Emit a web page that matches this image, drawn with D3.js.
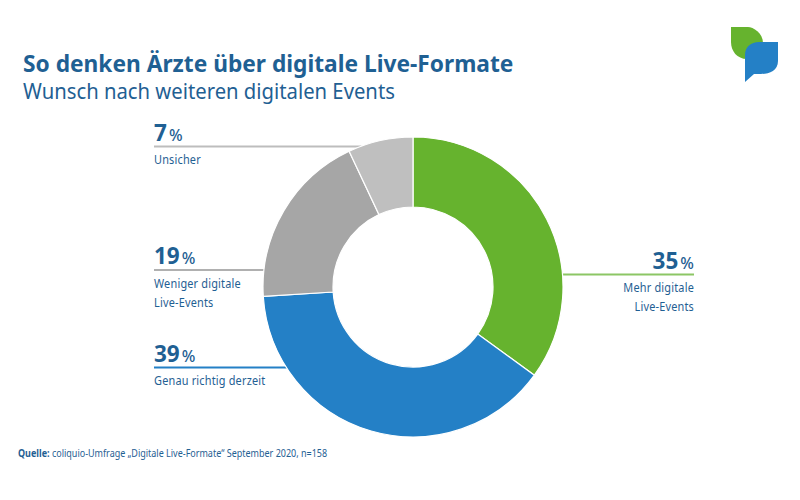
<!DOCTYPE html>
<html>
<head>
<meta charset="utf-8">
<script src="https://cdn.jsdelivr.net/npm/d3@7"></script>
<style>
  html, body { margin: 0; padding: 0; background: #fff; }
  text { font-family: "Noto Sans", sans-serif; fill: #1f6093; }
</style>
</head>
<body>
<svg id="chart" width="800" height="500"></svg>
<script>
const categories = ['Mehr digitale Live-Events', 'Genau richtig derzeit', 'Weniger digitale Live-Events', 'Unsicher'];
const values = [35, 39, 19, 7];
const colors = ['#66b32e', '#2480c6', '#a6a6a6', '#bfbfbf'];
const lineColors = ['#8cc665', '#2480c6', '#b0b0b0', '#bdbdbd'];
const labelLines = [['Mehr digitale', 'Live-Events'], ['Genau richtig derzeit'], ['Weniger digitale', 'Live-Events'], ['Unsicher']];

const cx = 413, cy = 287, outerR = 150, innerR = 80;
const labelLeft = 154, labelRight = 694;
const ruleY = [274.5, 367.5, 270, 146.5];

const svg = d3.select('#chart');

// Noto runs wider than the original face, so squeeze it horizontally
function squeezed(x, y, k) {
  return svg.append('text').attr('transform', `translate(${x},${y}) scale(${k},1)`);
}

squeezed(23, 72, 0.968)
  .style('font-size', '23.5px').style('font-weight', 700)
  .text('So denken Ärzte über digitale Live-Formate');
squeezed(23, 99, 0.966)
  .style('font-size', '21px')
  .text('Wunsch nach weiteren digitalen Events');

// logo
const logo = svg.append('g').attr('transform', 'translate(731,27)');
logo.append('path').attr('fill', '#66b32e')
  .attr('d', 'M0,0 H17 C22,0 32,6 32,16 V22 C32,30 24,32 16,32 C6,32 0,24 0,15 Z');
logo.append('path').attr('fill', '#2480c6')
  .attr('d', 'M47,15 V34 C47,44 38,47 30,47 H23 L14,55 V28 C14,20 20,15 28,15 Z');

// rules run from the label edge to the rim of the ring
ruleY.forEach((y, i) => {
  const dx = Math.sqrt(outerR * outerR - (y - cy) * (y - cy));
  const right = i === 0;
  svg.append('line')
    .attr('x1', right ? labelRight : labelLeft)
    .attr('x2', right ? cx + dx - 1 : cx - dx + 1)
    .attr('y1', y).attr('y2', y)
    .attr('stroke', lineColors[i]).attr('stroke-width', 2);
});

const pie = d3.pie().sort(null)(values);
const arc = d3.arc().innerRadius(innerR).outerRadius(outerR);
svg.append('g').attr('transform', `translate(${cx},${cy})`)
  .selectAll('path').data(pie).join('path')
  .attr('d', arc)
  .attr('fill', (d, i) => colors[i])
  .attr('stroke', '#fff').attr('stroke-width', 1.2);

values.forEach((v, i) => {
  const right = i === 0;
  const x = right ? labelRight : labelLeft;
  const t = svg.append('text').attr('x', x).attr('y', ruleY[i] - 6)
    .attr('text-anchor', right ? 'end' : 'start');
  t.append('tspan').style('font-size', '22.5px').style('font-weight', 700).text(v);
  t.append('tspan').attr('dx', 2).style('font-size', '16px').style('font-weight', 500).text('%');
  labelLines[i].forEach((line, j) => {
    squeezed(x, ruleY[i] + 17.5 + j * 19, 0.91)
      .attr('text-anchor', right ? 'end' : 'start')
      .style('font-size', '12px').style('letter-spacing', '0.2px')
      .text(line);
  });
});

const source = squeezed(18, 457, 0.9).style('font-size', '10px');
source.append('tspan').style('font-weight', 700).text('Quelle:');
source.append('tspan').text(' coliquio-Umfrage „Digitale Live-Formate“ September 2020, n=158');
</script>
</body>
</html>
